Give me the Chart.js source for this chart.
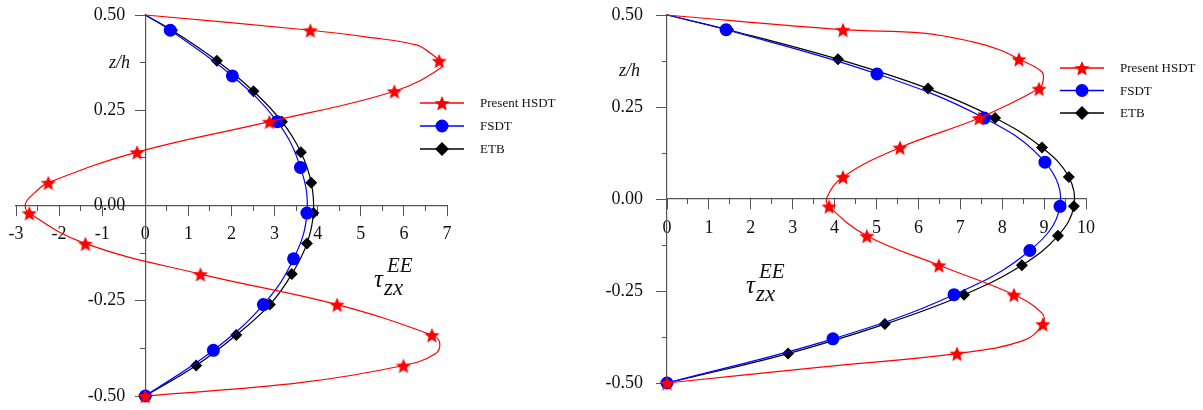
<!DOCTYPE html>
<html>
<head>
<meta charset="utf-8">
<title>tau_zx through the thickness</title>
<script src="https://cdn.jsdelivr.net/npm/chart.js@4/dist/chart.umd.min.js"></script>
<style>
  body { margin: 0; background: #fff; }
  .wrap { position: relative; width: 1203px; height: 410px; }
  .wrap canvas { position: absolute; left: 0; top: 0; }
</style>
</head>
<body>
<div class="wrap">
  <canvas id="leftChart" width="1203" height="410"></canvas>
  <canvas id="rightChart" width="1203" height="410"></canvas>
</div>
<script>
//! ======================= Data =============================================
// z/h stations where the markers sit
const zHsdt = [0.46, 0.38, 0.30, 0.22, 0.14, 0.06, -0.02, -0.10, -0.18, -0.26, -0.34, -0.42, -0.50];
const zFsdt = [0.46, 0.34, 0.22, 0.10, -0.02, -0.14, -0.26, -0.38, -0.50];
const zEtb = [0.46, 0.38, 0.30, 0.22, 0.14, 0.06, -0.02, -0.10, -0.18, -0.26, -0.34, -0.42, -0.50];

// left panel
const leftHsdt = [3.83, 6.82, 5.78, 2.88, -0.19, -2.25, -2.69, -1.39, 1.28, 4.45, 6.65, 5.99, 0];
const leftFsdt = [0.58, 2.02, 3.06, 3.60, 3.75, 3.44, 2.74, 1.58, 0];
const leftEtb = [0.62, 1.66, 2.51, 3.17, 3.61, 3.85, 3.90, 3.75, 3.40, 2.89, 2.11, 1.18, 0];
// where the red curve bends between markers
const leftBendX = [5.15, 6.31, 6.61, 6.87, -2.55, -2.78, 6.83, 6.72, 3.60];
const leftBendZ = [0.442, 0.421, 0.40, 0.362, 0.035, 0.005, -0.36, -0.39, -0.465];

// right panel
const rightHsdt = [4.20, 8.40, 8.88, 7.45, 5.56, 4.20, 3.87, 4.77, 6.49, 8.28, 8.97, 6.92, 0];
const rightFsdt = [1.41, 5.01, 7.57, 9.02, 9.38, 8.66, 6.85, 3.96, 0];
const rightEtb = [1.46, 4.08, 6.23, 7.83, 8.95, 9.59, 9.71, 9.33, 8.47, 7.09, 5.20, 2.89, 0];
const rightBendX = [6.11, 7.30, 7.95, 8.95, 8.97, 3.82, 8.95, 8.50, 3.73];
const rightBendZ = [0.451, 0.427, 0.405, 0.345, 0.318, 0.005, -0.31, -0.385, -0.456];

// top surface: every curve starts at zero stress
const topX = [0];
const topZ = [0.50];

const seriesNames = ['Present HSDT', 'FSDT', 'ETB'];
const leftXRange = [-3, 7];
const rightXRange = [0, 10];
const zRange = [-0.5, 0.5];

//! ============================ Helpers ====================================
const SERIF = "'Liberation Serif', 'Times New Roman', serif";
const AXIS = '#555';
const RED = '#ff0000', BLUE = '#0000ff', BLACK = '#000000';
const W = 1203;

function toPoints(xs, zs) {
    return xs.map((x, i) => ({ x: x, y: zs[i] }));
}

// curve = top point + markers + bends, ordered down the thickness
function curvePoints(xs, zs, bendX, bendZ) {
    let pts = toPoints(topX, topZ).concat(toPoints(xs, zs));
    if (bendX) pts = pts.concat(toPoints(bendX, bendZ));
    return pts.sort((a, b) => b.y - a.y);
}

function starImage(size, color) {
    const c = document.createElement('canvas');
    c.width = c.height = size;
    const g = c.getContext('2d');
    const r = size / 2, ri = r * 0.45;
    g.beginPath();
    for (let i = 0; i < 10; i++) {
        const a = -Math.PI / 2 + i * Math.PI / 5;
        const rr = i % 2 ? ri : r;
        g.lineTo(r + rr * Math.cos(a), r + 1 + rr * Math.sin(a));
    }
    g.closePath();
    g.fillStyle = color;
    g.fill();
    return c;
}
const redStar = starImage(16, RED);

// center-placed axes must not eat layout space
function flat(scale) {
    if (scale.isHorizontal()) scale.height = 0;
    else scale.width = 0;
}

function axis(min, max, step, tickLen, pos, opts) {
    return {
        type: 'linear', min: min, max: max, position: pos,
        afterFit: flat,
        ticks: Object.assign({
            stepSize: step, autoSkip: false, maxRotation: 0,
            color: '#111', font: { family: SERIF, size: 18 },
            callback: () => ''
        }, opts.ticks || {}),
        grid: tickLen
            ? { drawOnChartArea: false, tickLength: tickLen, tickColor: AXIS, tickWidth: 1 }
            : { display: false, drawTicks: false },
        border: { display: !!opts.border, color: AXIS, width: 1.2 }
    };
}

//! ======================= Text + legend plugin ============================
const paperText = {
    id: 'paperText',
    afterDraw(chart, args, o) {
        const ctx = chart.ctx;
        ctx.save();
        ctx.fillStyle = '#111';
        ctx.textBaseline = 'alphabetic';

        // z/h
        ctx.font = 'italic 18px ' + SERIF;
        ctx.textAlign = 'right';
        ctx.fillText('z/h', o.zh.x, o.zh.y);

        // tau_zx^EE
        ctx.textAlign = 'left';
        ctx.font = 'italic 25px ' + SERIF;
        ctx.fillText('\u03c4', o.tau.x, o.tau.y);
        ctx.font = 'italic 21px ' + SERIF;
        ctx.fillText('EE', o.tau.x + 13, o.tau.y - 15);
        ctx.font = 'italic 23px ' + SERIF;
        ctx.fillText('zx', o.tau.x + 10, o.tau.y + 8);

        // legend
        const colors = [RED, BLUE, BLACK];
        ctx.font = '13px ' + SERIF;
        ctx.textBaseline = 'middle';
        seriesNames.forEach((name, i) => {
            const y = o.legend.y + i * o.legend.dy;
            const x0 = o.legend.x, x1 = x0 + 44, xm = (x0 + x1) / 2;
            ctx.strokeStyle = colors[i];
            ctx.lineWidth = 1.5;
            ctx.beginPath();
            ctx.moveTo(x0, y);
            ctx.lineTo(x1, y);
            ctx.stroke();
            ctx.fillStyle = colors[i];
            if (i === 0) {
                ctx.drawImage(redStar, xm - 8, y - 8);
            } else if (i === 1) {
                ctx.beginPath();
                ctx.arc(xm, y, 6.5, 0, Math.PI * 2);
                ctx.fill();
            } else {
                ctx.beginPath();
                ctx.moveTo(xm, y - 7);
                ctx.lineTo(xm + 7, y);
                ctx.lineTo(xm, y + 7);
                ctx.lineTo(xm - 7, y);
                ctx.closePath();
                ctx.fill();
            }
            ctx.fillStyle = '#111';
            ctx.fillText(name, o.legend.x + 60, y + 1);
        });
        ctx.restore();
    }
};

//! ============================ Panels =====================================
function makePanel(id, xRange, hsdt, fsdt, etb, bendX, bendZ, padding, labelGap, text) {
    const line = (pts, color) => ({
        data: pts, showLine: true, pointRadius: 0, borderColor: color,
        borderWidth: 1.2, tension: 0.4, clip: false
    });
    const marks = (label, pts, style, color, radius) => ({
        label: label, data: pts, showLine: false, pointStyle: style,
        pointRadius: radius, pointBackgroundColor: color, pointBorderColor: color,
        pointBorderWidth: 0, clip: false
    });

    // y labels sit a few px left of the z axis: convert that gap to x units
    const unitPx = (W - padding.left - padding.right) / (xRange[1] - xRange[0]);
    const labelX = -labelGap / unitPx;

    return new Chart(document.getElementById(id), {
        type: 'scatter',
        data: {
            datasets: [
                marks(seriesNames[0], toPoints(hsdt, zHsdt), redStar, RED, 8),
                line(curvePoints(hsdt, zHsdt, bendX, bendZ), RED),
                marks(seriesNames[1], toPoints(fsdt, zFsdt), 'circle', BLUE, 6.5),
                line(curvePoints(fsdt, zFsdt), BLUE),
                marks(seriesNames[2], toPoints(etb, zEtb), 'rectRot', BLACK, 6),
                line(curvePoints(etb, zEtb), BLACK)
            ]
        },
        options: {
            responsive: false,
            animation: false,
            devicePixelRatio: 1,
            layout: { padding: padding },
            plugins: { legend: { display: false }, tooltip: { enabled: false }, paperText: text },
            scales: {
                x: axis(xRange[0], xRange[1], 1, 10, { y: 0 },
                    { border: true, ticks: { padding: 8, callback: v => String(v) } }),
                xMinor: axis(xRange[0], xRange[1], 0.5, 5, { y: 0 }, {}),
                y: axis(zRange[0], zRange[1], 0.25, 10, { x: 0 }, { border: true }),
                yMinor: axis(zRange[0], zRange[1], 0.125, 5, { x: 0 }, {}),
                yLabels: axis(zRange[0], zRange[1], 0.25, 0, { x: labelX },
                    { ticks: { callback: v => v.toFixed(2) } })
            }
        },
        plugins: [paperText]
    });
}

makePanel('leftChart', leftXRange, leftHsdt, leftFsdt, leftEtb, leftBendX, leftBendZ,
    { left: 16, right: 756, top: 15, bottom: 14 }, 20,
    { zh: { x: 130, y: 68 }, tau: { x: 374, y: 287 }, legend: { x: 420, y: 103, dy: 23 } });

makePanel('rightChart', rightXRange, rightHsdt, rightFsdt, rightEtb, rightBendX, rightBendZ,
    { left: 667, right: 117, top: 15, bottom: 27 }, 24,
    { zh: { x: 640, y: 76 }, tau: { x: 746, y: 293 }, legend: { x: 1060, y: 68, dy: 22.5 } });
</script>
</body>
</html>
